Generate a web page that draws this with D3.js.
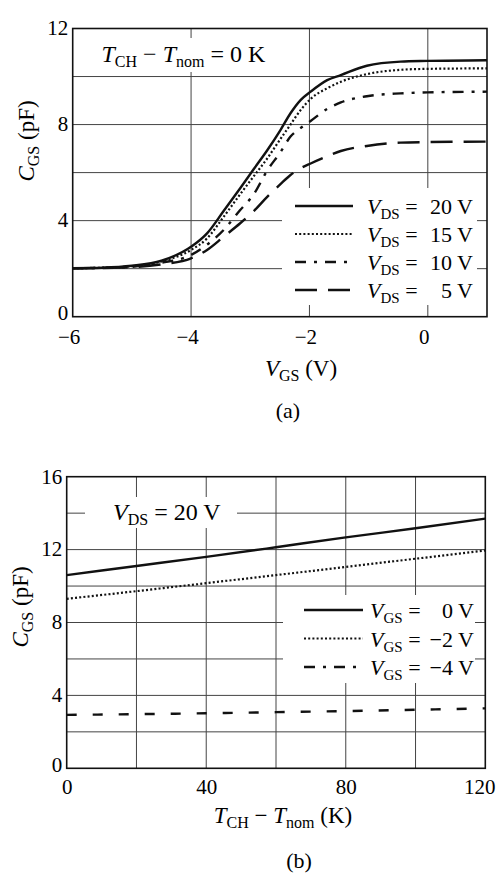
<!DOCTYPE html>
<html><head><meta charset="utf-8">
<script src="https://cdn.jsdelivr.net/npm/d3@7"></script>
<style>
html,body{margin:0;padding:0;background:#fff;}
svg text{font-family:"Liberation Serif","Times New Roman",serif;fill:#000;}
</style></head>
<body>
<svg id="c" width="498" height="880"></svg>
<script>
// ---------- Data: panel (a) ----------
const vgsA = [-6, -5.5, -5, -4.5, -4, -3.73, -3.45, -3.17, -2.94, -2.71, -2.49, -2.32, -2.15, -1.98, -1.7, -1.47, -1.03, -0.46, 0, 1];
const cgs20 = [2.02, 2.04, 2.12, 2.33, 2.91, 3.47, 4.4, 5.35, 6.15, 6.94, 7.77, 8.47, 9.02, 9.37, 9.85, 10.06, 10.45, 10.62, 10.65, 10.68];
const cgs15 = [2.02, 2.04, 2.10, 2.30, 2.78, 3.26, 4.16, 5.1, 5.85, 6.6, 7.4, 8.0, 8.6, 9.07, 9.51, 9.78, 10.1, 10.28, 10.32, 10.34];
const cgs10 = [2.02, 2.03, 2.08, 2.25, 2.57, 3.0, 3.61, 4.44, 5.1, 6.1, 6.85, 7.5, 7.85, 8.15, 8.65, 8.92, 9.18, 9.3, 9.34, 9.37];
const cgs5  = [2.02, 2.03, 2.06, 2.18, 2.43, 2.78, 3.33, 3.89, 4.4, 5.0, 5.52, 5.9, 6.18, 6.38, 6.68, 6.9, 7.11, 7.25, 7.27, 7.29];
const seriesA = ["20", "15", "10", "5"];
const yTicksA = [0, 4, 8, 12];
const xTicksA = [-6, -4, -2, 0];

// ---------- Data: panel (b) ----------
const dT = [0, 20, 40, 60, 80, 100, 120];
const cgsV0 = [10.6, 11.1, 11.6, 12.13, 12.67, 13.17, 13.7];
const cgsVm2 = [9.3, 9.72, 10.16, 10.6, 11.05, 11.5, 11.95];
const cgsVm4 = [2.93, 2.97, 3.02, 3.08, 3.14, 3.21, 3.29];
const seriesB = ["0", "\u22122", "\u22124"];
const yTicksB = [0, 4, 8, 12, 16];
const xTicksB = [0, 40, 80, 120];

const svg = d3.select("#c");
const styles = [
  {w: 2.4, dash: null},
  {w: 2.2, dash: "2,2.2"},
  {w: 2.4, dash: "11,8,3,8"},
  {w: 2.4, dash: "22,11"}
];

function panel(o) {
  const g = svg.append("g");
  const x = d3.scaleLinear().domain(o.xd).range([o.l, o.r]);
  const y = d3.scaleLinear().domain(o.yd).range([o.b, o.t]);
  g.append("g").selectAll("line").data(o.xGrid).join("line")
    .attr("x1", d => x(d)).attr("x2", d => x(d)).attr("y1", o.t).attr("y2", o.b)
    .attr("stroke", "#444").attr("stroke-width", 1);
  g.append("g").selectAll("line").data(o.yGrid).join("line")
    .attr("y1", d => y(d)).attr("y2", d => y(d)).attr("x1", o.l).attr("x2", o.r)
    .attr("stroke", "#444").attr("stroke-width", 1);
  o.boxes.forEach(b => g.append("rect").attr("x", b[0]).attr("y", b[1]).attr("width", b[2]).attr("height", b[3]).attr("fill", "#fff"));
  const line = d3.line().x(d => x(d[0])).y(d => y(d[1])).curve(d3.curveMonotoneX);
  o.series.forEach((s, i) => {
    const st = o.styles[i];
    g.append("path").datum(o.xs.map((v, j) => [v, s[j]]))
      .attr("d", line).attr("fill", "none").attr("stroke", "#111")
      .attr("stroke-width", st.w).attr("stroke-dasharray", st.dash);
  });
  g.append("rect").attr("x", o.l).attr("y", o.t).attr("width", o.r - o.l).attr("height", o.b - o.t)
    .attr("fill", "none").attr("stroke", "#111").attr("stroke-width", 1.6);
  const ax = g.append("g").attr("transform", `translate(0,${o.b})`)
    .call(d3.axisBottom(x).tickValues(o.xTicks).tickSize(0).tickPadding(0).tickFormat(d => d3.format("")(d).replace("-", "\u2212")));
  ax.select(".domain").remove();
  ax.selectAll("text").attr("font-size", 21).attr("font-family", "Liberation Serif").attr("fill", "#000")
    .attr("dy", null).attr("y", o.xLabY).attr("dx", o.xLabDx || 0);
  const ay = g.append("g").attr("transform", `translate(${o.l},0)`)
    .call(d3.axisLeft(y).tickValues(o.yTicks).tickSize(0).tickPadding(4.5));
  ay.select(".domain").remove();
  ay.selectAll("text").attr("font-size", 21).attr("font-family", "Liberation Serif").attr("fill", "#000")
    .attr("dy", d => d === 0 ? "0.15em" : "0.3em");
  return {x, y, g};
}

function subText(g, x, y, main, sub, rest, size, subSize, anchor) {
  const t = g.append("text").attr("x", x).attr("y", y).attr("font-size", size).attr("text-anchor", anchor || "start")
    .attr("xml:space", "preserve");
  t.append("tspan").attr("font-style", "italic").text(main);
  t.append("tspan").attr("font-size", subSize).attr("dy", 5).text(sub);
  t.append("tspan").attr("dy", -5).text(rest);
  return t;
}
function tLabel(g, x, y, rest, size, anchor) {
  const t = g.append("text").attr("x", x).attr("y", y).attr("font-size", size).attr("text-anchor", anchor || "start").attr("xml:space", "preserve");
  t.append("tspan").attr("font-style", "italic").text("T");
  t.append("tspan").attr("font-size", 16).attr("dy", 5).text("CH");
  t.append("tspan").attr("dy", -5).text(" \u2212 ");
  t.append("tspan").attr("font-style", "italic").text("T");
  t.append("tspan").attr("font-size", 16).attr("dy", 5).text("nom");
  t.append("tspan").attr("dy", -5).text(rest);
  return t;
}

// ---------- Panel (a) ----------
const A = panel({
  l: 72.7, r: 487, t: 28.5, b: 316.7, xd: [-6, 1], yd: [0, 12],
  xGrid: [-4, -2, 0], yGrid: [2, 4, 6, 8, 10],
  boxes: [[282, 188, 195, 117], [95, 38, 175, 34]],
  xs: vgsA, series: [cgs20, cgs15, cgs10, cgs5], styles: styles,
  xTicks: xTicksA, yTicks: yTicksA, xLabY: 27, xLabDx: -4
});
tLabel(A.g, 101.5, 62, " = 0 K", 24);
seriesA.forEach((s, i) => {
  const yy = 206 + i * 28;
  A.g.append("line").attr("x1", 295).attr("x2", 353).attr("y1", yy).attr("y2", yy)
    .attr("stroke", "#111").attr("stroke-width", styles[i].w).attr("stroke-dasharray", styles[i].dash);
  subText(A.g, 367, yy + 8, "V", "DS", " =", 22, 15);
  A.g.append("text").attr("x", 473).attr("y", yy + 8).attr("font-size", 22).attr("text-anchor", "end").text(s + " V");
});
subText(A.g, 301, 376, "V", "GS", " (V)", 23, 16, "middle");
subText(A.g, 0, 0, "C", "GS", " (pF)", 23, 16, "middle").attr("transform", "translate(34,141) rotate(-90)");
A.g.append("text").attr("x", 288).attr("y", 418).attr("font-size", 22).attr("text-anchor", "middle").text("(a)");

// ---------- Panel (b) ----------
const stylesB = [styles[0], styles[1], {w: 2.4, dash: "10,16"}];
const B = panel({
  l: 66.7, r: 485.3, t: 476.7, b: 768.3, xd: [0, 120], yd: [0, 16],
  xGrid: [20, 40, 60, 80, 100], yGrid: [2, 4, 6, 8, 10, 12, 14],
  boxes: [[85, 497, 152, 31], [283, 595, 192, 88]],
  xs: dT, series: [cgsV0, cgsVm2, cgsVm4], styles: stylesB,
  xTicks: xTicksB, yTicks: yTicksB, xLabY: 25.5, xLabDx: 0
});
B.g.selectAll("g.tick text").filter(d => d === 120).attr("dx", -6);
subText(B.g, 113, 520, "V", "DS", " = 20 V", 24, 16);
seriesB.forEach((s, i) => {
  const yy = 610 + i * 28.5;
  const st = styles[i === 2 ? 2 : i];
  B.g.append("line").attr("x1", 304).attr("x2", 363).attr("y1", yy).attr("y2", yy)
    .attr("stroke", "#111").attr("stroke-width", st.w).attr("stroke-dasharray", st.dash);
  subText(B.g, 370, yy + 8, "V", "GS", " =", 22, 15);
  B.g.append("text").attr("x", 474).attr("y", yy + 8).attr("font-size", 22).attr("text-anchor", "end").text(s + " V");
});
tLabel(B.g, 283, 823, " (K)", 23, "middle");
subText(B.g, 0, 0, "C", "GS", " (pF)", 23, 16, "middle").attr("transform", "translate(28,607) rotate(-90)");
B.g.append("text").attr("x", 299).attr("y", 868).attr("font-size", 22).attr("text-anchor", "middle").text("(b)");
</script>
</body></html>
